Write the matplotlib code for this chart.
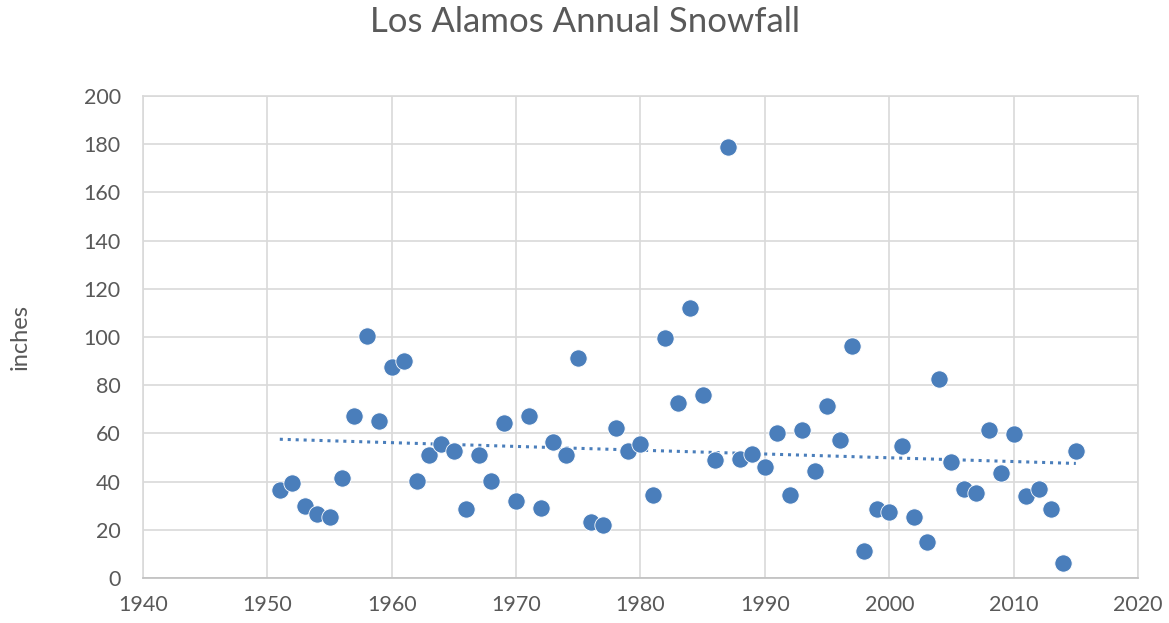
import numpy as np
import matplotlib
matplotlib.use('Agg')
import matplotlib.pyplot as plt

plt.rcParams['font.family'] = ['Lato', 'DejaVu Sans']

years = list(range(1951, 2016))
snowfall = [36.5, 39.4, 30.0, 26.5, 25.3, 41.5, 67.2, 100.4, 65.1, 87.5,
            90.0, 40.2, 51.0, 55.6, 52.7, 28.6, 51.0, 40.2, 64.3, 32.0,
            67.2, 29.0, 56.4, 51.0, 91.3, 23.2, 22.0, 62.2, 52.7, 55.6,
            34.4, 99.6, 72.6, 112.0, 75.9, 49.0, 178.8, 49.4, 51.5, 46.0,
            60.2, 34.4, 61.4, 44.4, 71.4, 57.3, 96.3, 11.2, 28.6, 27.4,
            54.8, 25.3, 14.9, 82.6, 48.1, 36.9, 35.3, 61.4, 43.6, 59.8,
            34.0, 36.9, 28.6, 6.2, 52.7]

x_ticks = [1940, 1950, 1960, 1970, 1980, 1990, 2000, 2010, 2020]
y_ticks = [0, 20, 40, 60, 80, 100, 120, 140, 160, 180, 200]

blue = '#4a7ebb'
text_color = '#595959'
grid_color = '#d9d9d9'

fig = plt.figure(figsize=(11.69, 6.23), dpi=100)
ax = fig.add_axes([0.1223, 0.072, 0.8512, 0.774])

ax.scatter(years, snowfall, s=155, color=blue, edgecolors='white', linewidths=0.6, zorder=3)

# linear trend line
coef = np.polyfit(years, snowfall, 1)
xs = np.array([years[0], years[-1]])
ax.plot(xs, np.polyval(coef, xs), linestyle=(0, (1, 1.6)), color=blue, linewidth=2.2, zorder=2)

ax.set_xlim(1940, 2020)
ax.set_ylim(0, 200)
ax.set_xticks(x_ticks)
ax.set_yticks(y_ticks)
ax.grid(True, color=grid_color, linewidth=1.2)
ax.set_axisbelow(True)
for side in ['top', 'right', 'left', 'bottom']:
    ax.spines[side].set_color(grid_color)
    ax.spines[side].set_linewidth(1.2)
ax.spines['bottom'].set_color('#bfbfbf')
ax.tick_params(length=0, labelsize=15.5, colors=text_color)
ax.tick_params(axis='y', pad=16)
ax.tick_params(axis='x', pad=12)

ax.set_ylabel('inches', fontsize=17, color=text_color, labelpad=38)
fig.suptitle('Los Alamos Annual Snowfall', fontsize=25, color=text_color, y=0.99)

fig.savefig('out.png', dpi=100)
